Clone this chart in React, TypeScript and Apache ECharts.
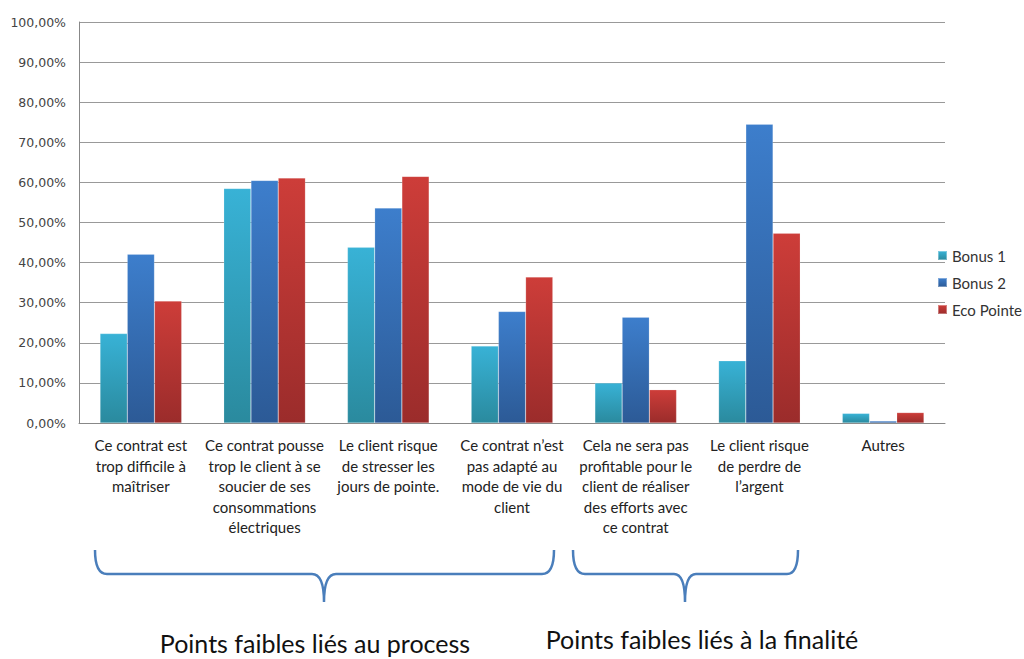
import React, { useEffect, useRef } from "react";
import * as echarts from "echarts";

const categories = [
  "Ce contrat est\ntrop difficile à\nmaîtriser",
  "Ce contrat pousse\ntrop le client à se\nsoucier de ses\nconsommations\nélectriques",
  "Le client risque\nde stresser les\njours de pointe.",
  "Ce contrat n’est\npas adapté au\nmode de vie du\nclient",
  "Cela ne sera pas\nprofitable pour le\nclient de réaliser\ndes efforts avec\nce contrat",
  "Le client risque\nde perdre de\nl’argent",
  "Autres",
];
const seriesNames = ["Bonus 1", "Bonus 2", "Eco Pointe"];
const bonus1 = [22.3, 58.5, 43.8, 19.2, 10.0, 15.5, 2.4];
const bonus2 = [42.1, 60.5, 53.6, 27.8, 26.4, 74.5, 0.5];
const ecoPointe = [30.4, 61.1, 61.5, 36.4, 8.3, 47.3, 2.6];
const groupLabels = ["Points faibles liés au process", "Points faibles liés à la finalité"];

const topColors = ["#38B2D6", "#3D7ECC", "#CD3D39"];
const bottomColors = ["#2A8A9E", "#2C5A96", "#9B2C2B"];

const brace1 = "M95 550 Q95 574 107 574 L312 574 Q324 574 324 602 Q324 574 336 574 L542 574 Q554 574 554 550";
const brace2 = "M573 550 Q573 574 585 574 L674 574 Q685 574 685 602 Q685 574 696 574 L787 574 Q798 574 798 550";

let registered = false;
function registerShapes() {
  if (registered) return;
  echarts.graphic.registerShape("brace1", echarts.graphic.extendPath(brace1, {}));
  echarts.graphic.registerShape("brace2", echarts.graphic.extendPath(brace2, {}));
  registered = true;
}

export default function App() {
  const ref = useRef<HTMLDivElement>(null);
  useEffect(() => {
    if (!ref.current) return;
    registerShapes();
    const chart = echarts.init(ref.current, null, { renderer: "svg" });
    const data = [bonus1, bonus2, ecoPointe];
    chart.setOption({
      animation: false,
      backgroundColor: "#ffffff",
      grid: { left: 79, right: 79, top: 22, bottom: 236 },
      legend: {
        orient: "vertical",
        left: 932,
        top: 243,
        itemWidth: 9,
        itemHeight: 9,
        itemGap: 12,
        icon: "rect",
        textStyle: { fontFamily: "Lato", fontSize: 15, color: "#333" },
        data: seriesNames,
      },
      xAxis: {
        type: "category",
        data: categories,
        axisLine: { lineStyle: { color: "#888", width: 1 } },
        axisTick: { show: false },
        axisLabel: {
          interval: 0,
          margin: 12,
          fontFamily: "Lato",
          fontSize: 15,
          lineHeight: 20.5,
          color: "#222",
          align: "center",
        },
      },
      yAxis: {
        type: "value",
        min: 0,
        max: 100,
        interval: 10,
        axisLine: { show: true, lineStyle: { color: "#888" } },
        axisTick: { show: false },
        splitLine: { lineStyle: { color: "#999", width: 1 } },
        axisLabel: {
          margin: 13,
          fontFamily: "DejaVu Sans",
          fontSize: 12.5,
          color: "#444",
          formatter: (v: number) => v.toFixed(2).replace(".", ",") + "%",
        },
      },
      series: seriesNames.map((name, i) => ({
        name,
        type: "bar",
        data: data[i],
        barGap: "0%",
        barCategoryGap: "34%",
        itemStyle: {
          color: new echarts.graphic.LinearGradient(0, 0, 0, 1, [
            { offset: 0, color: topColors[i] },
            { offset: 1, color: bottomColors[i] },
          ]),
          borderColor: "rgba(255,255,255,0.35)",
          borderWidth: 0.5,
        },
      })),
      graphic: [
        { type: "brace1", x: 0, y: 0, style: { fill: "none", stroke: "#4A7EBB", lineWidth: 2.5 } },
        { type: "brace2", x: 0, y: 0, style: { fill: "none", stroke: "#4A7EBB", lineWidth: 2.5 } },
        {
          type: "text",
          x: 315,
          y: 643,
          style: {
            text: groupLabels[0],
            fontFamily: "Lato",
            fontSize: 25,
            fill: "#111",
            align: "center",
            verticalAlign: "middle",
          },
        },
        {
          type: "text",
          x: 702,
          y: 639,
          style: {
            text: groupLabels[1],
            fontFamily: "Lato",
            fontSize: 25,
            fill: "#111",
            align: "center",
            verticalAlign: "middle",
          },
        },
      ],
    });
    return () => chart.dispose();
  }, []);
  return (
    <div
      ref={ref}
      style={{ position: "fixed", left: 0, top: 0, width: 1024, height: 659 }}
    />
  );
}
